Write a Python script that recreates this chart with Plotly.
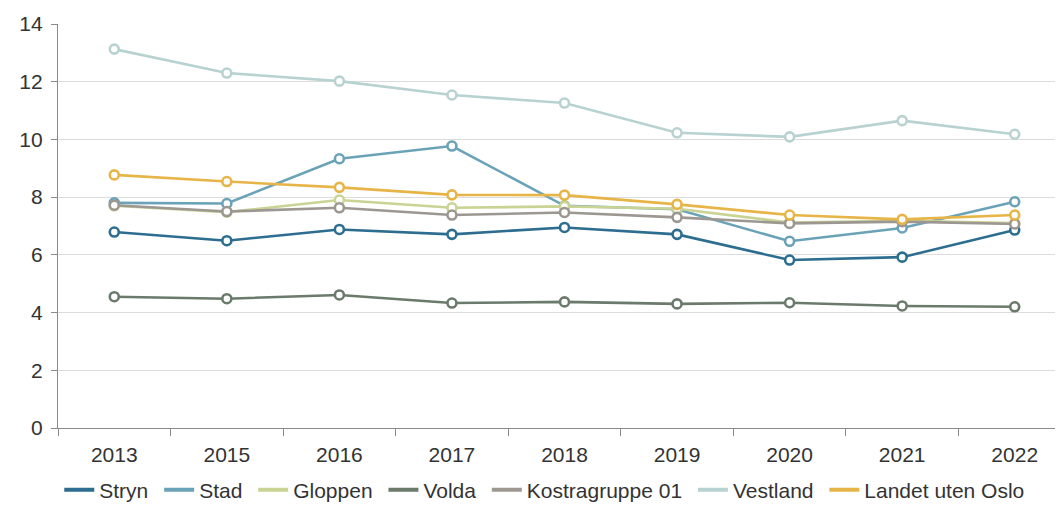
import plotly.graph_objects as go

years = ["2013", "2015", "2016", "2017", "2018", "2019", "2020", "2021", "2022"]

stryn = [6.79, 6.49, 6.88, 6.71, 6.95, 6.71, 5.82, 5.92, 6.86]
stad = [7.80, 7.78, 9.33, 9.77, 7.70, 7.58, 6.47, 6.93, 7.84]
gloppen = [7.70, 7.48, 7.90, 7.63, 7.68, 7.60, 7.12, 7.18, 7.10]
volda = [4.55, 4.48, 4.61, 4.33, 4.37, 4.30, 4.34, 4.23, 4.20]
kostra = [7.72, 7.50, 7.63, 7.38, 7.47, 7.30, 7.09, 7.15, 7.07]
vestland = [13.13, 12.30, 12.02, 11.54, 11.26, 10.23, 10.09, 10.65, 10.18]
landet = [8.77, 8.54, 8.34, 8.08, 8.07, 7.75, 7.38, 7.23, 7.38]

series_names = ["Stryn", "Stad", "Gloppen", "Volda", "Kostragruppe 01", "Vestland", "Landet uten Oslo"]
series_values = [stryn, stad, gloppen, volda, kostra, vestland, landet]
colors = ["#2c6d90", "#6aa2b7", "#c9d394", "#6a7a6b", "#9d9791", "#b8d2d1", "#e7b547"]

FONT = "Liberation Sans, Arial, sans-serif"
TXT = "#333333"

fig = go.Figure()
for name, vals, col in zip(series_names, series_values, colors):
    fig.add_trace(go.Scatter(
        x=years, y=vals, name=name, mode="lines+markers",
        line=dict(color=col, width=2.6),
        marker=dict(symbol="circle", size=9, color="white",
                    line=dict(color=col, width=2.6)),
        showlegend=False, hoverinfo="skip",
    ))
for name, vals, col in zip(series_names, series_values, colors):
    fig.add_trace(go.Scatter(
        x=[None], y=[None], name=name + "\u00a0", mode="lines",
        line=dict(color=col, width=4), showlegend=True,
    ))

fig.update_layout(
    width=1063, height=512,
    margin=dict(l=50, r=0, t=16, b=92),
    paper_bgcolor="white", plot_bgcolor="white",
    font=dict(family=FONT, size=21, color=TXT),
    legend=dict(orientation="h", x=0.483, xanchor="center", y=-0.103, yanchor="top",
                font=dict(size=21, color=TXT), itemwidth=30,
                traceorder="normal", tracegroupgap=0),
    xaxis=dict(
        type="category", range=[-0.5, 8.5],
        showline=True, linecolor="#8a8a8a", linewidth=1.3,
        ticks="outside", tickson="boundaries", ticklen=7, tickcolor="#8a8a8a",
        showgrid=False, tickfont=dict(size=21, color=TXT), ticklabelstandoff=8,
    ),
    yaxis=dict(
        range=[0, 14], dtick=2, tick0=0,
        showline=True, linecolor="#8a8a8a", linewidth=1.3,
        ticks="outside", ticklen=6, tickcolor="#8a8a8a",
        showgrid=True, gridcolor="#dcdcdc", gridwidth=1,
        zeroline=False, tickfont=dict(size=21, color=TXT), ticklabelstandoff=4,
    ),
)

fig.write_html("out.html")
